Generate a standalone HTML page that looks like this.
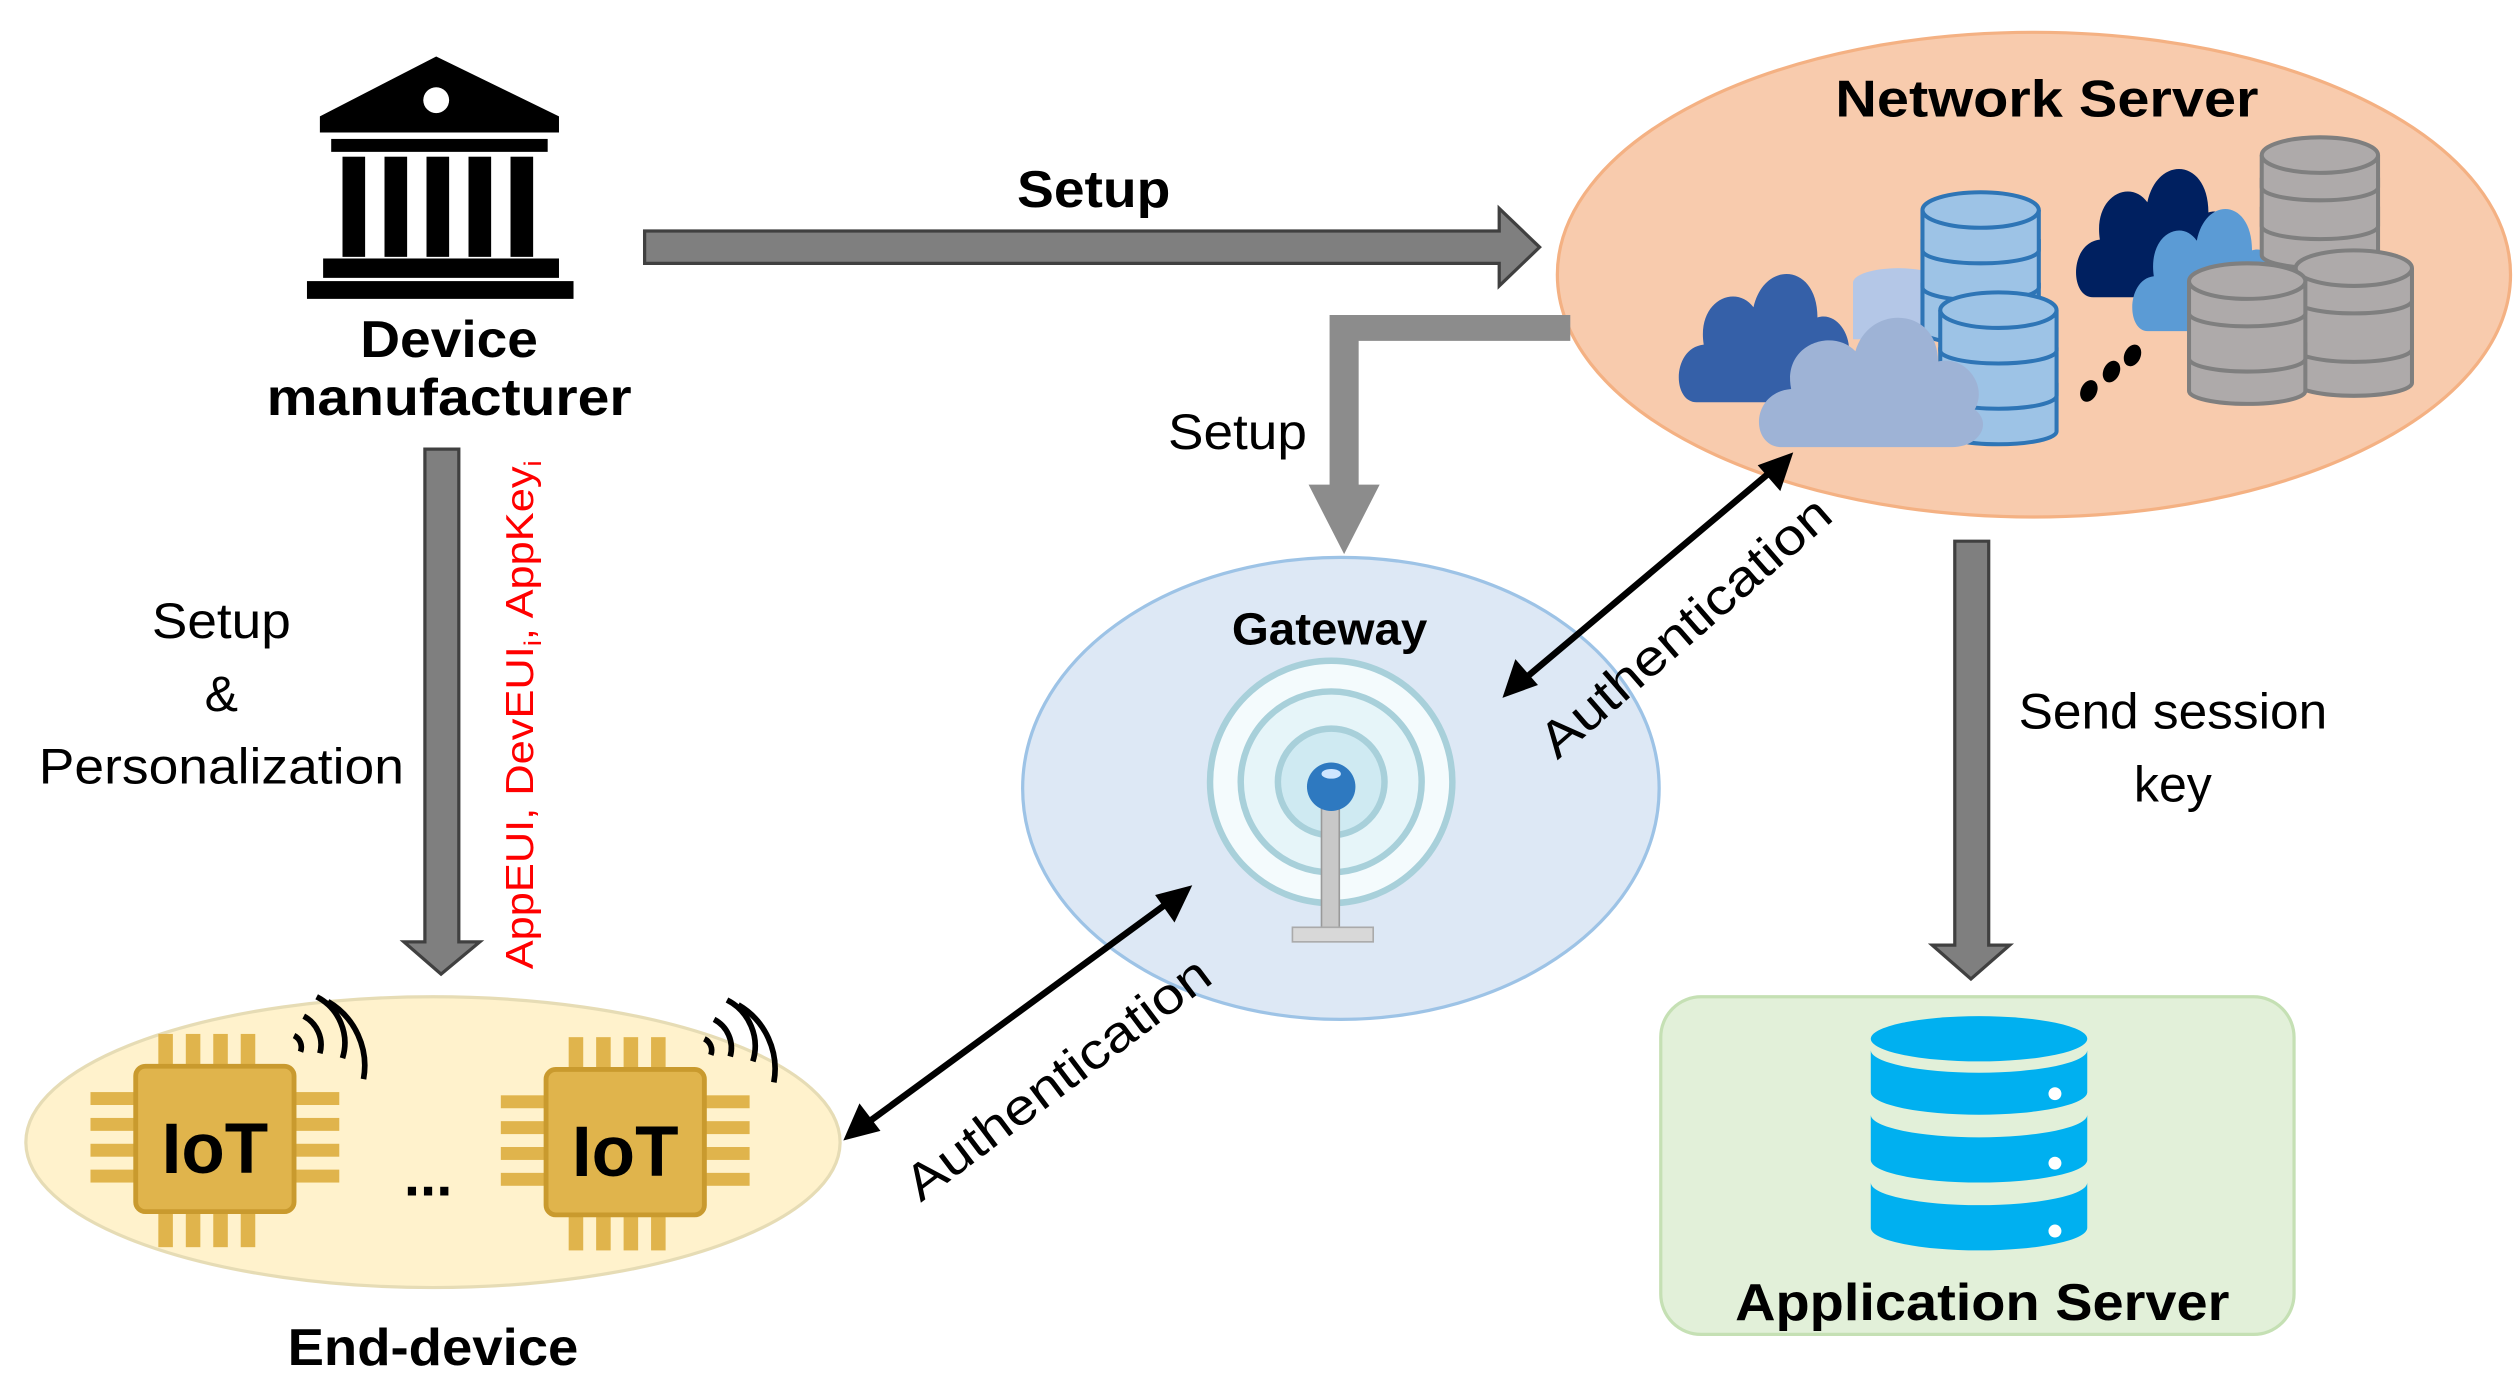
<!DOCTYPE html>
<html><head><meta charset="utf-8"><style>html,body{margin:0;padding:0;background:#fff}svg{display:block}</style></head>
<body>
<svg width="2517" height="1379" viewBox="0 0 1558 853.6" xmlns="http://www.w3.org/2000/svg" font-family="Liberation Sans, sans-serif">
<defs>
<path id="cloud" d="M12,80 C-2,80 -2,48 16,46 C12,20 34,10 44,24 C50,-4 80,-2 80,30 C92,26 102,44 96,58 C104,66 98,80 86,80 Z"/>
<g id="bseg"><path d="M0,0 v30 a36,8 0 0 0 72,0 v-30" /></g>
</defs>
<rect width="1558" height="853.6" fill="#fff"/>

<!-- Bank icon -->
<g fill="#000">
<polygon points="270,35 198,72 198,82 346,82 346,72"/>
<rect x="205" y="86" width="134" height="8"/>
<rect x="212" y="97" width="14" height="62"/><rect x="238" y="97" width="14" height="62"/><rect x="264" y="97" width="14" height="62"/><rect x="290" y="97" width="14" height="62"/><rect x="316" y="97" width="14" height="62"/>
<rect x="200" y="160" width="146" height="12"/>
<rect x="190" y="174" width="165" height="11"/>
</g>
<circle cx="270" cy="62" r="8" fill="#fff"/>
<text x="278" y="221" font-size="32" font-weight="bold" text-anchor="middle" textLength="110" lengthAdjust="spacingAndGlyphs">Device</text>
<text x="278" y="257" font-size="32" font-weight="bold" text-anchor="middle" textLength="226" lengthAdjust="spacingAndGlyphs">manufacturer</text>

<!-- Setup top arrow -->
<polygon points="399,143 928,143 928,129 953,153 928,177 928,163 399,163" fill="#7f7f7f" stroke="#404040" stroke-width="2"/>
<text x="677" y="128" font-size="32" font-weight="bold" text-anchor="middle" textLength="95" lengthAdjust="spacingAndGlyphs">Setup</text>

<!-- Network server -->
<ellipse cx="1259" cy="170" rx="295" ry="150" fill="#f8cbad" stroke="#f4b183" stroke-width="2"/>
<text x="1267" y="72" font-size="32" font-weight="bold" text-anchor="middle" textLength="262" lengthAdjust="spacingAndGlyphs">Network Server</text>

<ellipse cx="1175" cy="175" rx="28" ry="9" fill="#b4c7e7"/><rect x="1147" y="175" width="56" height="35" fill="#b4c7e7"/>
<g fill="#9dc3e6" stroke="#2e75b6" stroke-width="2.5">
<g transform="translate(1190,175)"><use href="#bseg"/></g>
<g transform="translate(1190,148)"><use href="#bseg"/></g>
<g transform="translate(1190,130)"><path d="M0,0 v25 a36,8 0 0 0 72,0 v-25"/><ellipse cx="36" cy="0" rx="36" ry="11"/></g>
</g>
<g transform="translate(1037,165) scale(1.1,1.05)"><use href="#cloud" fill="#3560a8"/></g>
<g fill="#9dc3e6" stroke="#2e75b6" stroke-width="2.5">
<g transform="translate(1201,237)"><use href="#bseg"/></g>
<g transform="translate(1201,215)"><use href="#bseg"/></g>
<g transform="translate(1201,192)"><path d="M0,0 v25 a36,8 0 0 0 72,0 v-25"/><ellipse cx="36" cy="0" rx="36" ry="11"/></g>
</g>
<g transform="translate(1086,192) scale(1.42,1.06)"><use href="#cloud" fill="#9eb3d6"/></g>
<ellipse cx="1293" cy="242" rx="5" ry="7" fill="#000" transform="rotate(25 1293 242)"/>
<ellipse cx="1307" cy="230" rx="5" ry="7" fill="#000" transform="rotate(25 1307 230)"/>
<ellipse cx="1320" cy="220" rx="5" ry="7" fill="#000" transform="rotate(25 1320 220)"/>
<g transform="translate(1283,100) scale(1.05,1.05)"><use href="#cloud" fill="#002060"/></g>
<g transform="translate(1318,125) scale(0.95,1.0)"><use href="#cloud" fill="#5b9bd5"/></g>
<g fill="#aeaaaa" stroke="#7f7f7f" stroke-width="2.5">
<g transform="translate(1400,128)"><use href="#bseg"/></g>
<g transform="translate(1400,110)"><use href="#bseg"/></g>
<g transform="translate(1400,96)"><path d="M0,0 v20 a36,8 0 0 0 72,0 v-20"/><ellipse cx="36" cy="0" rx="36" ry="11"/></g>
<g transform="translate(1421,207)"><use href="#bseg"/></g>
<g transform="translate(1421,186)"><use href="#bseg"/></g>
<g transform="translate(1421,166)"><path d="M0,0 v20 a36,8 0 0 0 72,0 v-20"/><ellipse cx="36" cy="0" rx="36" ry="11"/></g>
<g transform="translate(1355,212)"><use href="#bseg"/></g>
<g transform="translate(1355,192)"><use href="#bseg"/></g>
<g transform="translate(1355,174)"><path d="M0,0 v20 a36,8 0 0 0 72,0 v-20"/><ellipse cx="36" cy="0" rx="36" ry="11"/></g>
</g>

<!-- Elbow setup arrow -->
<polygon points="972,195 823,195 823,300 810,300 832,343 854,300 841,300 841,211 972,211" fill="#8c8c8c"/>
<text x="766" y="278" font-size="31" text-anchor="middle" textLength="86" lengthAdjust="spacingAndGlyphs">Setup</text>

<!-- Gateway -->
<ellipse cx="830" cy="488" rx="197" ry="143" fill="#dde8f5" stroke="#9dc3e6" stroke-width="2"/>
<text x="823" y="399" font-size="28" font-weight="bold" text-anchor="middle" textLength="121" lengthAdjust="spacingAndGlyphs">Gateway</text>
<circle cx="824" cy="484" r="75" fill="#f4fbfd" stroke="#a8d0da" stroke-width="4"/>
<circle cx="824" cy="484" r="56" fill="#e6f5f9" stroke="#a8d0da" stroke-width="4"/>
<circle cx="824" cy="484" r="33" fill="#cfeaf2" stroke="#a8d0da" stroke-width="4"/>
<rect x="818" y="495" width="11" height="80" fill="#c8c8c8" stroke="#999" stroke-width="1"/>
<rect x="800" y="574" width="50" height="9" fill="#d8d8d8" stroke="#aaa"/>
<circle cx="824" cy="487" r="15" fill="#2e79c0"/>
<ellipse cx="824" cy="479" rx="6" ry="3" fill="#cfe6ff"/>

<!-- Auth arrows -->
<g stroke="#000" stroke-width="4" fill="#000">
<line x1="944" y1="420" x2="1096" y2="292"/>
<line x1="537" y1="695" x2="724" y2="558"/>
</g>
<polygon points="930,432 938,408 952,424" fill="#000"/>
<polygon points="1110,280 1102,304 1088,288" fill="#000"/>
<polygon points="522,706 532,683 545,700" fill="#000"/>
<polygon points="738,548 727,571 715,554" fill="#000"/>
<text font-size="31" text-anchor="middle" transform="translate(1050,396) rotate(-41)" textLength="228" lengthAdjust="spacingAndGlyphs">Authentication</text>
<text font-size="31" text-anchor="middle" transform="translate(661,676) rotate(-37)" textLength="228" lengthAdjust="spacingAndGlyphs">Authentication</text>

<!-- Left down arrow -->
<polygon points="263,278 284,278 284,583 297,583 273,603 250,583 263,583" fill="#7f7f7f" stroke="#404040" stroke-width="2"/>
<text x="137" y="395" font-size="31" text-anchor="middle" textLength="86" lengthAdjust="spacingAndGlyphs">Setup</text>
<text x="137" y="440" font-size="31" text-anchor="middle">&amp;</text>
<text x="137" y="485" font-size="31" text-anchor="middle" textLength="226" lengthAdjust="spacingAndGlyphs">Personalization</text>
<text font-size="24" fill="#ff0000" transform="translate(330,600) rotate(-90)" textLength="315" lengthAdjust="spacingAndGlyphs">AppEUI, DevEUI<tspan font-size="15" dy="5">i</tspan><tspan dy="-5">, AppKey</tspan><tspan font-size="15" dy="5">i</tspan></text>

<!-- End device -->
<ellipse cx="268" cy="707" rx="252" ry="90" fill="#fff2cc" stroke="#e6dcb5" stroke-width="2"/>
<g id="chip">
<g fill="#e0b44c">
<rect x="98" y="640" width="9" height="22"/><rect x="115" y="640" width="9" height="22"/><rect x="132" y="640" width="9" height="22"/><rect x="149" y="640" width="9" height="22"/>
<rect x="98" y="750" width="9" height="22"/><rect x="115" y="750" width="9" height="22"/><rect x="132" y="750" width="9" height="22"/><rect x="149" y="750" width="9" height="22"/>
<rect x="56" y="676" width="30" height="8"/><rect x="56" y="692" width="30" height="8"/><rect x="56" y="708" width="30" height="8"/><rect x="56" y="724" width="30" height="8"/>
<rect x="180" y="676" width="30" height="8"/><rect x="180" y="692" width="30" height="8"/><rect x="180" y="708" width="30" height="8"/><rect x="180" y="724" width="30" height="8"/>
</g>
<rect x="84" y="660" width="98" height="90" rx="6" fill="#e0b44c" stroke="#c99a2e" stroke-width="3"/>
<text x="133" y="726" font-size="44" font-weight="bold" text-anchor="middle">IoT</text>
<g fill="none" stroke="#000" stroke-width="3.5">
<path d="M186,651 a8,8 0 0 0 -4,-10"/>
<path d="M198,652 a20,20 0 0 0 -10,-23"/>
<path d="M212,655 a32,32 0 0 0 -16,-38"/>
<path d="M225,668 a46,46 0 0 0 -22,-48"/>
</g>
</g>
<use href="#chip" transform="translate(254,2)"/>
<text x="265" y="740" font-size="36" font-weight="bold" text-anchor="middle">...</text>
<text x="268" y="845" font-size="32" font-weight="bold" text-anchor="middle" textLength="180" lengthAdjust="spacingAndGlyphs">End-device</text>

<!-- Right down arrow -->
<polygon points="1210,335 1231,335 1231,585 1244,585 1220,606 1196,585 1210,585" fill="#7f7f7f" stroke="#404040" stroke-width="2"/>
<text x="1345" y="451" font-size="31" text-anchor="middle" textLength="191" lengthAdjust="spacingAndGlyphs">Send session</text>
<text x="1345" y="496" font-size="31" text-anchor="middle">key</text>

<!-- App server -->
<rect x="1028" y="617" width="392" height="209" rx="25" fill="#e2f0d9" stroke="#c5e0b4" stroke-width="2"/>
<g fill="#00b0f0">
<ellipse cx="1225" cy="643" rx="67" ry="14"/>
<path d="M1158,650 v26 a67,14 0 0 0 134,0 v-26 a67,14 0 0 1 -134,0z"/>
<path d="M1158,690 v28 a67,14 0 0 0 134,0 v-28 a67,14 0 0 1 -134,0z"/>
<path d="M1158,732 v28 a67,14 0 0 0 134,0 v-28 a67,14 0 0 1 -134,0z"/>
</g>
<circle cx="1272" cy="677" r="4" fill="#fff"/><circle cx="1272" cy="720" r="4" fill="#fff"/><circle cx="1272" cy="762" r="4" fill="#fff"/>
<text x="1227" y="817" font-size="32" font-weight="bold" text-anchor="middle" textLength="306" lengthAdjust="spacingAndGlyphs">Application Server</text>
</svg>
</body></html>
